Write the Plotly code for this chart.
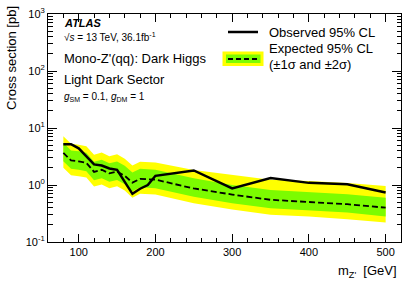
import plotly.graph_objects as go

# ---------------- data ----------------
masses = [80, 90, 100, 110, 120, 130, 140, 150, 160, 170, 180, 190, 200, 250, 300, 350, 400, 450, 500]
observed = [5.2, 5.2, 4.4, 3.2, 2.3, 2.2, 1.95, 1.85, 1.15, 0.70, 0.86, 1.0, 1.45, 1.8, 0.87, 1.33, 1.09, 1.03, 0.74]
expected = [3.67, 2.7, 2.6, 2.45, 1.7, 1.85, 1.6, 1.72, 1.45, 1.1, 1.28, 1.26, 1.24, 0.87, 0.68, 0.55, 0.51, 0.46, 0.40]
exp_up2 = [7.2, 5.3, 5.1, 4.8, 3.4, 3.7, 3.2, 3.45, 2.9, 2.2, 2.55, 2.52, 2.48, 1.83, 1.5, 1.24, 1.17, 1.08, 0.96]
exp_up1 = [5.5, 4.05, 3.9, 3.68, 2.55, 2.78, 2.4, 2.58, 2.18, 1.65, 1.92, 1.89, 1.86, 1.31, 1.0, 0.82, 0.76, 0.69, 0.6]
exp_dn1 = [2.6, 1.92, 1.85, 1.74, 1.21, 1.31, 1.14, 1.22, 1.03, 0.78, 0.91, 0.89, 0.88, 0.62, 0.48, 0.39, 0.36, 0.33, 0.28]
exp_dn2 = [2.0, 1.49, 1.43, 1.35, 0.94, 1.02, 0.88, 0.95, 0.8, 0.6, 0.7, 0.69, 0.68, 0.48, 0.37, 0.3, 0.28, 0.25, 0.22]

x_ticks = [100, 200, 300, 400, 500]
y_ticks = [0.1, 1, 10, 100, 1000]
y_ticktext = ["10<sup>-1</sup>", "10<sup>0</sup>", "10<sup>1</sup>", "10<sup>2</sup>", "10<sup>3</sup>"]

# ---------------- layout geometry ----------------
W, H = 407, 281
L, R, T, B = 48, 6, 14, 39
PW, PH = W - L - R, H - T - B
FONT = "Liberation Sans, Arial, Helvetica, sans-serif"
YELLOW = "#FFFF00"
GREEN = "#7CFC00"


def px(xp):
    return (xp - L) / PW


def py(yp):
    return (H - B - yp) / PH


fig = go.Figure()

# 2 sigma band
fig.add_trace(go.Scatter(x=masses, y=exp_dn2, mode="lines", line=dict(width=0, color=YELLOW),
                         showlegend=False, hoverinfo="skip"))
fig.add_trace(go.Scatter(x=masses, y=exp_up2, mode="lines", line=dict(width=0, color=YELLOW),
                         fill="tonexty", fillcolor=YELLOW, showlegend=False, hoverinfo="skip"))
# 1 sigma band
fig.add_trace(go.Scatter(x=masses, y=exp_dn1, mode="lines", line=dict(width=0, color=GREEN),
                         showlegend=False, hoverinfo="skip"))
fig.add_trace(go.Scatter(x=masses, y=exp_up1, mode="lines", line=dict(width=0, color=GREEN),
                         fill="tonexty", fillcolor=GREEN, showlegend=False, hoverinfo="skip"))
# expected
fig.add_trace(go.Scatter(x=masses, y=expected, mode="lines",
                         line=dict(color="black", width=1.8, dash="6px,3px"), showlegend=False))
# observed
fig.add_trace(go.Scatter(x=masses, y=observed, mode="lines",
                         line=dict(color="black", width=2.5), showlegend=False))

minor_y = [k * 10 ** e for e in range(-1, 3) for k in range(2, 10)]

fig.update_layout(
    width=W, height=H,
    margin=dict(l=L, r=R, t=T, b=B, pad=0),
    paper_bgcolor="white", plot_bgcolor="white",
    font=dict(family=FONT, color="black", size=11),
    showlegend=False,
    xaxis=dict(range=[60, 520], tickvals=x_ticks, ticks="inside", ticklen=8, tickwidth=1,
               tickcolor="black", showline=True, linecolor="black", linewidth=1,
               mirror="allticks", showgrid=False, zeroline=False,
               tickfont=dict(size=11, family=FONT),
               minor=dict(dtick=20, tick0=0, ticks="inside", ticklen=4, tickcolor="black", showgrid=False)),
    yaxis=dict(type="log", range=[-1, 3], tickvals=y_ticks, ticktext=y_ticktext,
               ticks="inside", ticklen=9, tickwidth=1, tickcolor="black",
               showline=True, linecolor="black", linewidth=1, mirror="allticks",
               showgrid=False, zeroline=False, tickfont=dict(size=11, family=FONT),
               minor=dict(tickvals=minor_y, ticks="inside", ticklen=4.5, tickcolor="black", showgrid=False)),
)

ann = []
# axis titles
ann.append(dict(text="Cross section [pb]", xref="paper", yref="paper", x=px(11), y=py(4),
                xanchor="center", yanchor="top", textangle=-90, showarrow=False,
                font=dict(size=13, family=FONT)))
ann.append(dict(text="m<sub>Z'</sub>  [GeV]", xref="paper", yref="paper", x=px(399), y=py(271),
                xanchor="right", yanchor="middle", showarrow=False, font=dict(size=13, family=FONT)))
# labels
ann.append(dict(text="<b><i>ATLAS</i></b>", xref="paper", yref="paper", x=px(62), y=py(23),
                xanchor="left", yanchor="middle", showarrow=False, font=dict(size=11, family=FONT)))
ann.append(dict(text="\u221a<i>s</i> = 13 TeV, 36.1fb<sup>-1</sup>", xref="paper", yref="paper",
                x=px(62), y=py(37), xanchor="left", yanchor="middle", showarrow=False,
                font=dict(size=10, family=FONT)))
ann.append(dict(text="Mono-Z'(qq): Dark Higgs", xref="paper", yref="paper", x=px(62), y=py(58),
                xanchor="left", yanchor="middle", showarrow=False, font=dict(size=13, family=FONT)))
ann.append(dict(text="Light Dark Sector", xref="paper", yref="paper", x=px(62), y=py(79),
                xanchor="left", yanchor="middle", showarrow=False, font=dict(size=13, family=FONT)))
ann.append(dict(text="<i>g</i><sub>SM</sub> = 0.1, <i>g</i><sub>DM</sub> = 1", xref="paper", yref="paper",
                x=px(62), y=py(97), xanchor="left", yanchor="middle", showarrow=False,
                font=dict(size=10, family=FONT)))
# legend texts
ann.append(dict(text="Observed 95% CL", xref="paper", yref="paper", x=px(267), y=py(32),
                xanchor="left", yanchor="middle", showarrow=False, font=dict(size=13, family=FONT)))
ann.append(dict(text="Expected 95% CL", xref="paper", yref="paper", x=px(267), y=py(48),
                xanchor="left", yanchor="middle", showarrow=False, font=dict(size=13, family=FONT)))
ann.append(dict(text="(\u00b11\u03c3 and \u00b12\u03c3)", xref="paper", yref="paper", x=px(267), y=py(64),
                xanchor="left", yanchor="middle", showarrow=False, font=dict(size=13, family=FONT)))
fig.update_layout(annotations=ann)

shapes = [
    dict(type="line", xref="paper", yref="paper", x0=px(228), x1=px(258), y0=py(32), y1=py(32),
         line=dict(color="black", width=2.5)),
    dict(type="rect", xref="paper", yref="paper", x0=px(222.5), x1=px(263.5), y0=py(51.5), y1=py(66),
         fillcolor=YELLOW, line=dict(width=0)),
    dict(type="rect", xref="paper", yref="paper", x0=px(226), x1=px(260.5), y0=py(54.5), y1=py(63),
         fillcolor=GREEN, line=dict(width=0)),
    dict(type="line", xref="paper", yref="paper", x0=px(228), x1=px(258), y0=py(59), y1=py(59),
         line=dict(color="black", width=1.8, dash="5px,3px")),
]
fig.update_layout(shapes=shapes)

fig.write_html("out.html", config={"displayModeBar": False},
               post_script="document.body.style.margin='0';document.body.style.padding='0';")
